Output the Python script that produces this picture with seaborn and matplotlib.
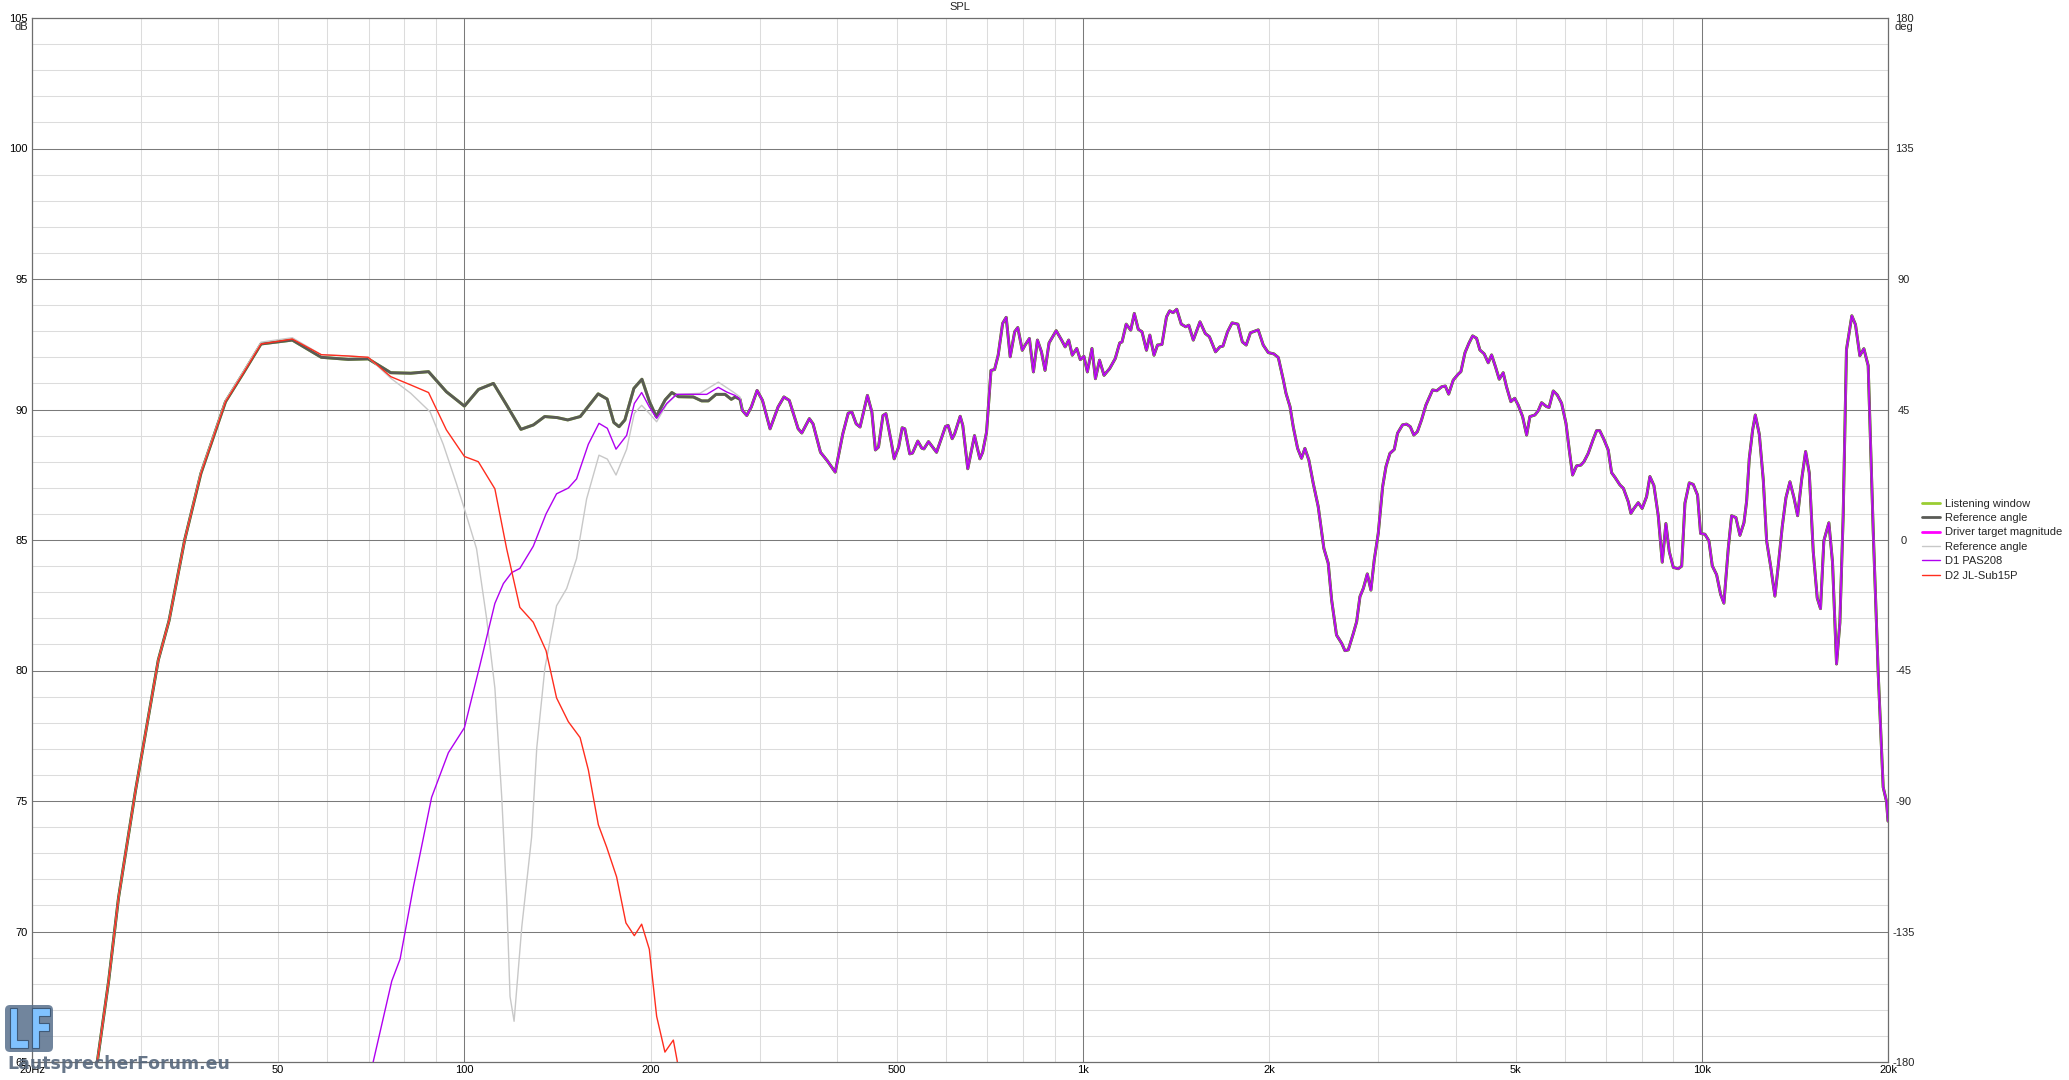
import matplotlib

matplotlib.use("Agg")

import matplotlib.pyplot as plt
import seaborn as sns
from matplotlib.font_manager import FontProperties
from matplotlib.lines import Line2D
from matplotlib.patches import FancyBboxPatch, PathPatch
from matplotlib.textpath import TextPath
from matplotlib.transforms import Affine2D

# --- data (Hz, dB) ---
# summed response below ~280 Hz ("Reference angle", thick)
freq_sum_low = [24, 25.5, 26.6, 27.6, 29.4, 32.0, 33.3, 35.3, 37.5, 41.1, 43.9, 46.9, 52.7,
                58.7, 64.9, 69.9, 76.0, 81.9, 87.5, 93.5, 100, 105.4, 111.4, 117.0, 123.4,
                129.3, 134.8, 141.2, 146.9, 153.9, 164.5, 170.1, 174.4, 177.8, 181.7, 187.9,
                193.6, 199.1, 204.2, 211.1, 216.4, 221.8, 234.4, 241.8, 247.9, 255.1, 263.8,
                270, 274, 278.9]
spl_sum_low = [61.0, 65.0, 68.1, 71.3, 75.4, 80.4, 81.9, 85.0, 87.55, 90.3, 91.39, 92.51, 92.66,
               92.0, 91.92, 91.94, 91.41, 91.39, 91.45, 90.68, 90.13, 90.77, 91.0, 90.17, 89.24,
               89.41, 89.73, 89.69, 89.6, 89.73, 90.6, 90.4, 89.5, 89.34, 89.6, 90.81,
               91.16, 90.3, 89.73, 90.37, 90.65, 90.49, 90.48, 90.33, 90.33, 90.58, 90.58,
               90.39, 90.48, 90.39]

# thin grey "Reference angle" below ~280 Hz (with the deep notch)
freq_ref2_low = [24, 25.5, 26.6, 27.6, 29.4, 32.0, 33.3, 35.3, 37.5, 41.1, 43.9, 46.9, 52.7,
                 58.7, 64.9, 69.9, 76.0, 81.9, 88.0, 92.4, 97.1, 100, 104.6, 108.6, 112.0,
                 114.9, 117.0, 118.5, 120.3, 123.8, 128.4, 130.9, 134.9, 140.9, 146.3, 151.8,
                 157.6, 165.0, 170.2, 175.8, 182.9, 188.2, 193.4, 199.0, 204.5, 212.3, 220.3,
                 240.3, 257.3, 272.0, 278.9]
spl_ref2_low = [61.0, 65.0, 68.1, 71.3, 75.4, 80.4, 81.9, 85.0, 87.6, 90.35, 91.45, 92.58, 92.75,
                92.1, 92.05, 92.0, 91.2, 90.62, 89.91, 88.67, 87.15, 86.19, 84.67, 82.0, 79.33,
                75.14, 71.33, 67.51, 66.56, 70.18, 73.61, 77.04, 80.09, 82.48, 83.14, 84.29,
                86.58, 88.25, 88.10, 87.49, 88.48, 89.85, 90.16, 89.85, 89.53, 90.20, 90.58,
                90.62, 91.05, 90.67, 90.48]

# D1 PAS208 below ~280 Hz
freq_d1_low = [65, 71.2, 76.3, 78.7, 82.7, 88.5, 94.2, 100, 105.9, 112.0, 115.6, 119.2, 122.9,
               129.2, 135.5, 140.9, 147.2, 151.8, 158.6, 165.0, 170.2, 175.8, 182.9, 188.2,
               193.4, 199.0, 204.5, 212.3, 220.3, 234.4, 246.4, 257.3, 265.4, 273.7, 278.9]
spl_d1_low = [61.5, 65.0, 68.1, 68.94, 71.71, 75.14, 76.85, 77.81, 80.19, 82.57, 83.33, 83.75, 83.91,
              84.76, 86.0, 86.77, 86.99, 87.34, 88.67, 89.47, 89.28, 88.48, 89.01, 90.23,
              90.65, 90.1, 89.66, 90.23, 90.58, 90.58, 90.58, 90.85, 90.67, 90.54, 90.39]

# D2 JL-Sub15P
freq_d2 = [24, 25.5, 26.6, 27.6, 29.4, 32.0, 33.3, 35.3, 37.5, 41.1, 43.9, 46.9, 52.7, 58.7,
           64.9, 69.9, 76.0, 81.9, 87.5, 93.5, 100, 105.3, 112.0, 117.0, 122.9, 129.2, 135.5,
           140.9, 147.2, 153.8, 158.6, 164.6, 169.8, 176.2, 182.4, 188.2, 193.4, 199.0, 204.5,
           210.9, 217.6, 220.8, 226]
spl_d2 = [61.0, 65.0, 68.1, 71.3, 75.4, 80.4, 81.9, 85.0, 87.55, 90.3, 91.39, 92.51, 92.7, 92.1,
          92.05, 92.0, 91.26, 90.94, 90.65, 89.22, 88.2, 88.0, 86.96, 84.67, 82.42, 81.85, 80.76,
          78.95, 78.04, 77.43, 76.19, 74.09, 73.23, 72.09, 70.33, 69.84, 70.28, 69.32, 66.75,
          65.38, 65.84, 65.03, 62.0]

# above ~280 Hz the sum and D1 coincide
freq_high = [281.3, 286.0, 290.9, 297.2, 303.2, 311.9, 321.4, 328.4, 335.0, 346.3, 351.0, 361.0,
             366, 376.3, 385.8, 397.5, 408.9, 417.2, 423, 429.8, 436, 448.1, 455.6, 461.6, 467.0,
             474.8, 480, 489.2, 495.0, 503.3, 510.0, 515, 524.5, 530, 540.5, 548.6, 553, 562.5,
             579.6, 599.2, 605, 614.3, 620, 632.9, 639, 651.0, 667.5, 680.8, 688, 698.1, 704.0,
             709.8, 719.3, 729.0, 741.2, 751.1, 762.4, 775.2, 784.2, 797.4, 806, 818.8, 831.2,
             843.7, 856.4, 867.9, 881.0, 904.7, 923.0, 935.4, 947.8, 960.5, 976.6, 989.7, 1003,
             1016, 1033.5, 1047, 1063, 1081, 1104, 1127, 1146, 1156, 1174, 1194, 1210, 1228,
             1245, 1266, 1282, 1302, 1319, 1341, 1364, 1380, 1398, 1417, 1441, 1465, 1482, 1507,
             1545, 1576, 1600, 1637, 1664, 1683, 1712, 1741, 1779, 1809, 1835, 1864, 1919, 1955,
             1992, 2034, 2068, 2107, 2128, 2160, 2186, 2222, 2255, 2283, 2317, 2355, 2399, 2450,
             2490, 2522, 2568, 2618, 2650, 2683, 2734, 2768, 2802, 2838, 2880, 2919, 2955, 3000,
             3049, 3087, 3133, 3184, 3223, 3283, 3333, 3380, 3424, 3470, 3524, 3582, 3672, 3730,
             3798, 3850, 3898, 3966, 4041, 4080, 4143, 4204, 4262, 4325, 4379, 4450, 4517, 4574,
             4640, 4706, 4776, 4835, 4914, 4985, 5050, 5133, 5211, 5275, 5374, 5440, 5509, 5613,
             5665, 5754, 5840, 5935, 6033, 6107, 6183, 6275, 6377, 6450, 6553, 6677, 6761, 6840,
             6946, 7060, 7149, 7240, 7374, 7470, 7606, 7682, 7770, 7894, 8010, 8143, 8245, 8368,
             8505, 8632, 8750, 8860, 8995, 9162, 9280, 9393, 9546, 9688, 9845, 9956, 10118,
             10270, 10399, 10568, 10726, 10859, 11036, 11174, 11355, 11526, 11700, 11816, 11934,
             12083, 12205, 12388, 12573, 12730, 12919, 13129, 13293, 13494, 13679, 13885, 14094,
             14287, 14500, 14718, 14920, 15142, 15368, 15558, 15752, 16049, 16268, 16513, 16720,
             16927, 17135, 17481, 17721, 18009, 18281, 18578, 18927, 19283, 19644, 19890, 20000]
spl_high = [89.97, 89.77, 90.10, 90.73, 90.35, 89.26, 90.10, 90.48, 90.35, 89.26, 89.10, 89.65,
            89.45, 88.36, 88.04, 87.60, 89.07, 89.86, 89.90, 89.45, 89.33, 90.54, 89.90, 88.45,
            88.56, 89.77, 89.84, 88.81, 88.11, 88.56, 89.30, 89.26, 88.30, 88.33, 88.79, 88.52,
            88.49, 88.77, 88.36, 89.35, 89.39, 88.88, 89.07, 89.74, 89.39, 87.73, 89.00, 88.11,
            88.36, 89.13, 90.35, 91.50, 91.53, 92.08, 93.30, 93.53, 92.02, 92.98, 93.14, 92.27,
            92.47, 92.72, 91.44, 92.66, 92.21, 91.50, 92.55, 93.02, 92.66, 92.40, 92.66, 92.08,
            92.34, 91.91, 92.04, 91.44, 92.34, 91.18, 91.89, 91.31, 91.57, 91.95, 92.55, 92.59,
            93.27, 93.04, 93.68, 93.07, 92.98, 92.27, 92.85, 92.08, 92.47, 92.49, 93.55, 93.78,
            93.71, 93.84, 93.27, 93.17, 93.23, 92.66, 93.36, 92.91, 92.79, 92.21, 92.40, 92.43,
            92.98, 93.32, 93.27, 92.59, 92.47, 92.94, 93.05, 92.47, 92.18, 92.13, 91.99, 91.13,
            90.62, 90.11, 89.34, 88.51, 88.13, 88.51, 88.06, 87.17, 86.28, 84.68, 84.11, 82.70,
            81.36, 81.04, 80.76, 80.79, 81.42, 81.87, 82.83, 83.15, 83.70, 83.08, 84.23, 85.26,
            87.04, 87.81, 88.32, 88.47, 89.09, 89.41, 89.44, 89.34, 89.02, 89.15, 89.60, 90.17,
            90.75, 90.72, 90.87, 90.90, 90.59, 91.13, 91.36, 91.45, 92.18, 92.54, 92.82, 92.73,
            92.28, 92.13, 91.79, 92.09, 91.64, 91.16, 91.41, 90.87, 90.30, 90.43, 90.17, 89.73,
            89.02, 89.73, 89.79, 89.95, 90.26, 90.11, 90.08, 90.71, 90.56, 90.24, 89.47, 88.45,
            87.49, 87.84, 87.87, 88.00, 88.32, 88.86, 89.19, 89.19, 88.86, 88.45, 87.58, 87.40,
            87.11, 86.98, 86.47, 86.02, 86.21, 86.43, 86.21, 86.66, 87.43, 87.09, 85.93, 84.15,
            85.63, 84.56, 83.95, 83.90, 84.00, 86.41, 87.19, 87.13, 86.72, 85.25, 85.22, 84.97,
            84.01, 83.67, 82.92, 82.58, 84.67, 85.93, 85.86, 85.18, 85.66, 86.48, 88.12, 89.21,
            89.79, 89.05, 87.30, 84.97, 84.01, 82.85, 84.01, 85.52, 86.62, 87.23, 86.62, 85.93,
            87.30, 88.39, 87.57, 84.56, 82.78, 82.37, 84.97, 85.66, 84.15, 80.25, 81.83, 85.93,
            92.29, 93.59, 93.25, 92.06, 92.33, 91.68, 85.38, 79.91, 75.53, 74.98, 74.23]

x_ticks = [20, 50, 100, 200, 500, 1000, 2000, 5000, 10000, 20000]
x_labels = ["20Hz", "50", "100", "200", "500", "1k", "2k", "5k", "10k", "20k"]
db_ticks = [65, 70, 75, 80, 85, 90, 95, 100, 105]
deg_ticks = [-180, -135, -90, -45, 0, 45, 90, 135, 180]
legend_labels = ["Listening window", "Reference angle", "Driver target magnitude",
                 "Reference angle", "D1 PAS208", "D2 JL-Sub15P"]

# --- style ---
sns.set_theme(style="white")
plt.rcParams["font.family"] = ["Liberation Sans", "DejaVu Sans"]

C_LW = "#9acd32"
C_REF = "#5a5b56"
C_TARGET = "#ff00ff"
C_REF2 = "#c8c8c8"
C_D1 = "#b000f0"
C_D2 = "#ff2d1e"
C_MAJOR = "#7a7a7a"
C_MINOR = "#dcdcdc"

W, H = 2069, 1080
fig = plt.figure(figsize=(W / 100, H / 100), dpi=100)
fig.patch.set_facecolor("white")
ax = fig.add_axes([32 / W, 18 / H, 1856 / W, 1044 / H])
ax.set_xscale("log")
ax.set_xlim(20, 20000)
ax.set_ylim(65, 105)

# grid
for db in range(66, 105):
    if db % 5:
        ax.axhline(db, color=C_MINOR, lw=0.75, zorder=0)
for decade in [10, 100, 1000, 10000]:
    for k in range(1, 10):
        f = k * decade
        if 20 < f < 20000 and f not in (100, 1000, 10000):
            ax.axvline(f, color=C_MINOR, lw=0.75, zorder=0)
for db in db_ticks[1:-1]:
    ax.axhline(db, color=C_MAJOR, lw=0.75, zorder=0.5)
for f in (100, 1000, 10000):
    ax.axvline(f, color=C_MAJOR, lw=0.75, zorder=0.5)

sum_f = freq_sum_low + freq_high
sum_y = spl_sum_low + spl_high
line_kw = dict(ax=ax, sort=False, estimator=None, legend=False)
sns.lineplot(x=sum_f, y=sum_y, color=C_LW, linewidth=2.1, zorder=2, **line_kw)
sns.lineplot(x=sum_f, y=sum_y, color=C_REF, linewidth=2.1, zorder=3, **line_kw)
sns.lineplot(x=freq_ref2_low + freq_high, y=spl_ref2_low + spl_high,
             color=C_REF2, linewidth=1.0, zorder=4, **line_kw)
sns.lineplot(x=freq_high, y=spl_high, color=C_TARGET, linewidth=1.5, alpha=0.55,
             zorder=5, **line_kw)
sns.lineplot(x=freq_d1_low + freq_high, y=spl_d1_low + spl_high,
             color=C_D1, linewidth=1.0, zorder=6, **line_kw)
sns.lineplot(x=freq_d2, y=spl_d2, color=C_D2, linewidth=1.0, zorder=7, **line_kw)

ax.set_xlim(20, 20000)
ax.set_ylim(65, 105)
ax.set_xlabel("")
ax.set_ylabel("")
ax.xaxis.set_minor_locator(matplotlib.ticker.NullLocator())
ax.set_xticks(x_ticks)
ax.set_xticklabels(x_labels)
ax.set_yticks(db_ticks)
ax.set_yticklabels([str(v) for v in db_ticks])
ax.tick_params(axis="x", length=0, pad=2, labelsize=8, colors="black")
ax.tick_params(axis="y", length=0, pad=3, labelsize=8, colors="black")
for sp in ax.spines.values():
    sp.set_color("#6e6e6e")
    sp.set_linewidth(0.9)
    sp.set_zorder(8)

ax2 = ax.twinx()
ax2.set_ylim(-180, 180)
ax2.set_yticks(deg_ticks)
ax2.set_yticklabels([str(v) for v in deg_ticks])
ax2.tick_params(axis="y", length=0, pad=11.5, labelsize=8)
for lab in ax2.get_yticklabels():
    lab.set_horizontalalignment("center")
for sp in ax2.spines.values():
    sp.set_visible(False)
ax2.grid(False)

fig.text(960 / W, 1 - 7 / H, "SPL", ha="center", va="center", fontsize=8)
fig.text(28 / W, 1 - 27 / H, "dB", ha="right", va="center", fontsize=8)
fig.text(1904 / W, 1 - 27 / H, "deg", ha="center", va="center", fontsize=8)

handles = [
    Line2D([], [], color=C_LW, lw=2.0),
    Line2D([], [], color=C_REF, lw=2.0),
    Line2D([], [], color=C_TARGET, lw=2.0),
    Line2D([], [], color=C_REF2, lw=1.0),
    Line2D([], [], color=C_D1, lw=1.0),
    Line2D([], [], color=C_D2, lw=1.0),
]
fig.legend(handles, legend_labels, loc="upper left",
           bbox_to_anchor=(1922 / W, 1 - 498.5 / H), frameon=False, fontsize=8,
           borderpad=0, borderaxespad=0, handlelength=1.6, handletextpad=0.5,
           labelspacing=0.4)

# forum watermark
box = FancyBboxPatch((5, H - 1052), 48, 47, boxstyle="round,pad=0,rounding_size=5",
                     transform=Affine2D(), facecolor="#58708c", edgecolor="none",
                     alpha=0.85, zorder=20)
fig.add_artist(box)
tp = TextPath((0, 0), "LF", size=1, prop=FontProperties(family="DejaVu Sans", weight="bold"))
ext = tp.get_extents()
tr = Affine2D().translate(-ext.x0, -ext.y0).scale(40 / ext.width, 40 / ext.height)
tr = tr.translate(10, H - 1048)
fig.add_artist(PathPatch(tp, transform=tr, facecolor="#80c2ff", edgecolor="#3f5a78",
                         lw=0.8, zorder=21))
fig.text(7 / W, (H - 1069) / H, "LautsprecherForum.eu", ha="left", va="baseline",
         fontsize=12.5, fontweight="bold", color="#56677c", alpha=0.9,
         family=["DejaVu Sans"], zorder=22)

fig.savefig("out.png", dpi=100, facecolor="white")
